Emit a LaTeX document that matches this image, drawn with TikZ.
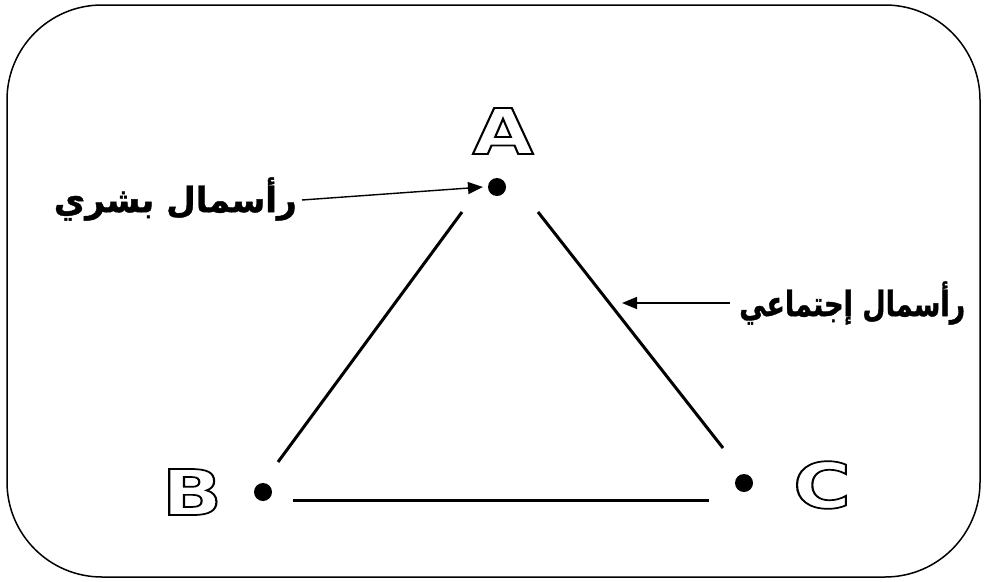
\documentclass[tikz,border=0pt]{standalone}
\usepackage{fontspec}
\usetikzlibrary{arrows.meta}
\setmainfont{Liberation Sans}
\newfontfamily\letterfont{DejaVu Sans Bold}
\newfontfamily\arabicfont[Script=Arabic, FakeBold=1.2]{DejaVu Sans Bold}
\TeXXeTstate=1
\newcommand\hollow[1]{\special{pdf:code 1 Tr 1.7 w 0 G}#1\special{pdf:code 0 Tr}}
\tikzset{
  frame/.style={draw=black, line width=1.5pt, rounded corners=95pt},
  dotnode/.style={circle, fill=black, inner sep=0pt, minimum size=18pt},
  side/.style={line width=3pt},
  letter/.style={inner sep=0pt, font=\letterfont\fontsize{63}{63}\selectfont, xscale=1.25},
  arlabel/.style={inner sep=0pt, font=\arabicfont\fontsize{35}{40}\selectfont},
  pointer/.style={line width=1.4pt, -{Triangle[length=15pt,width=12pt]}}
}
\begin{document}
\begin{tikzpicture}[x=1pt,y=-1pt]
\useasboundingbox (0,0) rectangle (984,581);
\draw[frame] (7,5) rectangle (980,577);
% dots
\node[dotnode] (dA) at (497,187) {};
\node[dotnode] (dB) at (263,492) {};
\node[dotnode] (dC) at (744,483) {};
% letters
\node[letter] (lA) at (503,131) {\hollow{A}};
\node[letter] (lB) at (192,492) {\hollow{B}};
\node[letter] (lC) at (822,485) {\hollow{C}};
% triangle sides
\coordinate (ab1) at (462,212);
\coordinate (ab2) at (278,462);
\coordinate (ac1) at (538,212);
\coordinate (ac2) at (723,448);
\coordinate (bc1) at (293,500);
\coordinate (bc2) at (709,500);
\draw[side] (ab1) -- (ab2);
\draw[side] (ac1) -- (ac2);
\draw[side] (bc1) -- (bc2);
% labels
\node[arlabel, anchor=east] (t1) at (297,199) {\resizebox{243pt}{\height}{\beginR رأسمال بشري\endR}};
\node[arlabel, anchor=west] (t2) at (739,303) {\resizebox{226pt}{\height}{\beginR رأسمال إجتماعي\endR}};
\coordinate (p1) at (302,200);
\coordinate (q1) at (483,187);
\coordinate (p2) at (730,303);
\coordinate (q2) at (622,303);
\draw[pointer] (p1) -- (q1);
\draw[pointer] (p2) -- (q2);
\end{tikzpicture}
\end{document}
